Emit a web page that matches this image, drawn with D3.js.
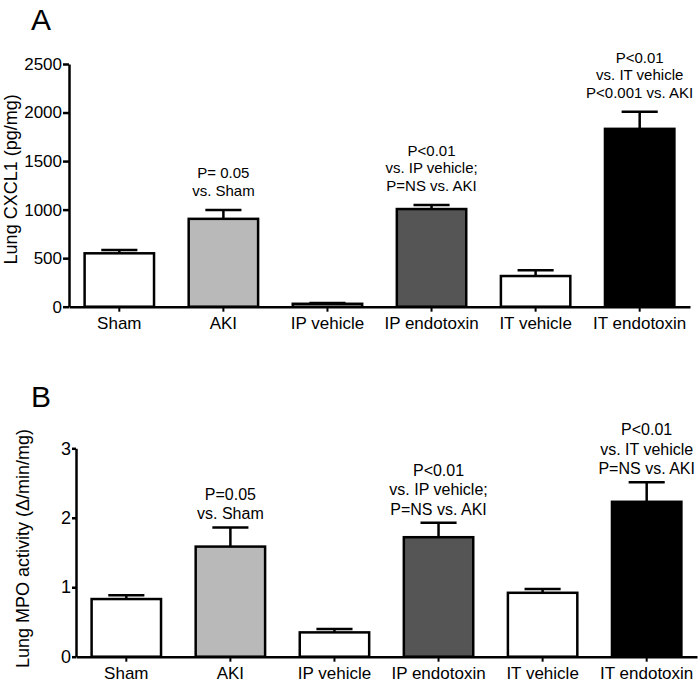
<!DOCTYPE html>
<html>
<head>
<meta charset="utf-8">
<script src="https://cdn.jsdelivr.net/npm/d3@7"></script>
<style>
  html, body { margin: 0; padding: 0; background: #fff; }
  svg { display: block; font-family: "Liberation Sans", Arial, Helvetica, sans-serif; }
</style>
</head>
<body>
<svg id="chart" width="700" height="683"></svg>
<script>
// ---- data ----
const categories = ["Sham", "AKI", "IP vehicle", "IP endotoxin", "IT vehicle", "IT endotoxin"];
const barFills = ["#ffffff", "#b9b9b9", "#ffffff", "#555555", "#ffffff", "#000000"];

const cxcl1Mean = [550, 905, 30, 1006, 316, 1832];
const cxcl1Sem  = [35, 92, 9, 42, 59, 176];
const cxcl1Ticks = [0, 500, 1000, 1500, 2000, 2500];
const cxcl1Notes = [null, ["P= 0.05", "vs. Sham"], null,
  ["P<0.01", "vs. IP vehicle;", "P=NS vs. AKI"], null,
  ["P<0.01", "vs. IT vehicle", "P<0.001 vs. AKI"]];

const mpoMean = [0.83, 1.585, 0.35, 1.72, 0.92, 2.23];
const mpoSem  = [0.055, 0.275, 0.05, 0.21, 0.055, 0.28];
const mpoTicks = [0, 1, 2, 3];
const mpoNotes = [null, ["P=0.05", "vs. Sham"], null,
  ["P<0.01", "vs. IP vehicle;", "P=NS vs. AKI"], null,
  ["P<0.01", "vs. IT vehicle", "P=NS vs. AKI"]];

// ---- drawing ----
const svg = d3.select("#chart");

function panel(cfg) {
  const g = svg.append("g");
  const x = d3.scaleBand().domain(categories).range([cfg.left, cfg.right])
    .paddingInner(0.333).paddingOuter(0.15);
  const y = d3.scaleLinear().domain([0, cfg.max]).range([cfg.bottom, cfg.top]);

  // bars
  g.selectAll("rect.bar").data(cfg.mean).enter().append("rect")
    .attr("class", "bar")
    .attr("x", (d, i) => x(categories[i]))
    .attr("width", x.bandwidth())
    .attr("y", d => y(d))
    .attr("height", d => y(0) - y(d))
    .attr("fill", (d, i) => barFills[i])
    .attr("stroke", "#000").attr("stroke-width", 2.5);

  // error bars (upper only)
  const capW = x.bandwidth() * 0.52;
  const eb = g.selectAll("g.err").data(cfg.mean).enter().append("g").attr("class", "err");
  eb.append("line")
    .attr("x1", (d, i) => x(categories[i]) + x.bandwidth() / 2)
    .attr("x2", (d, i) => x(categories[i]) + x.bandwidth() / 2)
    .attr("y1", d => y(d))
    .attr("y2", (d, i) => y(d + cfg.sem[i]))
    .attr("stroke", "#000").attr("stroke-width", 2.5);
  eb.append("line")
    .attr("x1", (d, i) => x(categories[i]) + x.bandwidth() / 2 - capW / 2)
    .attr("x2", (d, i) => x(categories[i]) + x.bandwidth() / 2 + capW / 2)
    .attr("y1", (d, i) => y(d + cfg.sem[i]))
    .attr("y2", (d, i) => y(d + cfg.sem[i]))
    .attr("stroke", "#000").attr("stroke-width", 2.5);

  // annotations
  cfg.notes.forEach((lines, i) => {
    if (!lines) return;
    const cx = x(categories[i]) + x.bandwidth() / 2;
    const base = y(cfg.mean[i] + cfg.sem[i]) - cfg.noteGap;
    const t = g.append("text").attr("text-anchor", "middle")
      .attr("font-size", cfg.noteSize).attr("fill", "#000");
    lines.forEach((ln, k) => {
      t.append("tspan").attr("x", cx)
        .attr("y", base - (lines.length - 1 - k) * cfg.noteLine)
        .text(ln);
    });
  });

  // y axis
  const ya = g.append("g").attr("transform", `translate(${cfg.left},0)`)
    .call(d3.axisLeft(y).tickValues(cfg.ticks).tickFormat(d3.format("d"))
      .tickSize(cfg.tickSize).tickSizeOuter(0).tickPadding(1));
  ya.select(".domain").attr("stroke", "#000").attr("stroke-width", 2.5);
  ya.selectAll(".tick line").attr("stroke", "#000").attr("stroke-width", 2.5);
  ya.selectAll(".tick text").attr("font-size", cfg.tickFont).attr("fill", "#000")
    .attr("font-family", "Liberation Sans, Arial, sans-serif");

  // x axis
  const xa = g.append("g").attr("transform", `translate(0,${cfg.bottom})`)
    .call(d3.axisBottom(x).tickSize(5).tickSizeOuter(0).tickPadding(5));
  xa.select(".domain").attr("stroke", "#000").attr("stroke-width", 2.5);
  xa.selectAll(".tick line").attr("stroke", "#000").attr("stroke-width", 2);
  xa.selectAll(".tick text").attr("font-size", 17).attr("fill", "#000")
    .attr("font-family", "Liberation Sans, Arial, sans-serif");

  // y label
  g.append("text")
    .attr("transform", `translate(${cfg.ylabX},${(cfg.top + cfg.bottom) / 2 - cfg.ylabShift}) rotate(-90)`)
    .attr("text-anchor", "middle").attr("font-size", 18).attr("fill", "#000")
    .text(cfg.ylabel);

  // panel letter
  g.append("text").attr("x", 31).attr("y", cfg.letterY)
    .attr("font-size", 30).attr("fill", "#000").text(cfg.letter);
}

panel({
  letter: "A", letterY: 30,
  left: 69, right: 690, bottom: 306.7, top: 64, max: 2500,
  mean: cxcl1Mean, sem: cxcl1Sem, ticks: cxcl1Ticks, notes: cxcl1Notes,
  tickSize: 6, tickFont: 17, noteSize: 15, noteLine: 17.5, noteGap: 14,
  ylabel: "Lung CXCL1 (pg/mg)", ylabX: 17, ylabShift: 6
});

panel({
  letter: "B", letterY: 406.7,
  left: 76, right: 697, bottom: 656.7, top: 448.3, max: 3,
  mean: mpoMean, sem: mpoSem, ticks: mpoTicks, notes: mpoNotes,
  tickSize: 4, tickFont: 18, noteSize: 16, noteLine: 19.5, noteGap: 8,
  ylabel: "Lung MPO activity (\u0394/min/mg)", ylabX: 29, ylabShift: 4
});
</script>
</body>
</html>
